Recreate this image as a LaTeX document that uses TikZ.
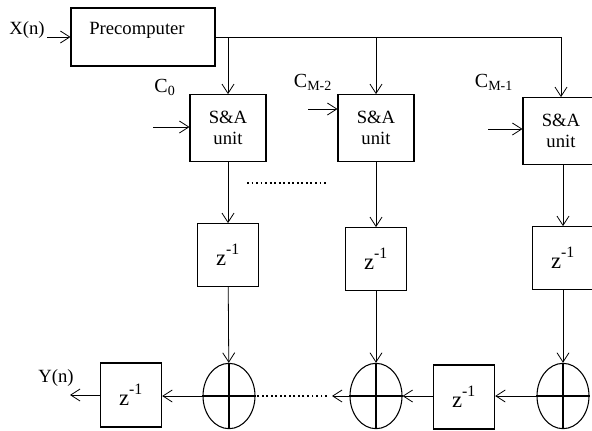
\documentclass[tikz,border=0pt]{standalone}
\usepackage{fontspec}
\setmainfont{Liberation Serif}
\usepackage{tikz}
\usetikzlibrary{arrows.meta,shapes.geometric}

\tikzset{
  blk/.style={draw, line width=0.8pt, inner sep=0pt},
  adder/.style={draw, ellipse, line width=0.8pt, minimum width=39pt, minimum height=49pt, inner sep=0pt},
  sig/.style={line width=0.6pt, -{Straight Barb[length=7pt,width=9pt]}},
  txt/.style={inner sep=0.75pt, font=\fontsize{14}{16}\selectfont},
  ztxt/.style={inner sep=0.75pt, font=\fontsize{17}{19}\selectfont},
  ctxt/.style={inner sep=0.75pt, font=\fontsize{15}{17}\selectfont}
}
\newcommand{\zinv}{z\textsuperscript{\raisebox{2pt}{-1}}}

\begin{document}
\begin{tikzpicture}[x=0.75pt,y=0.75pt,yscale=-1,xscale=1]
\useasboundingbox (0,0) rectangle (592,430);

%Shape: Rectangle [precomputer]
\node [blk, minimum width=108pt, minimum height=43.5pt] (pre) at (143,37) {};
% Text Node
\node [txt] (pretxt) at (137,30) {Precomputer};
% Text Node
\node [txt] (xin) at (27,30) {X(n)};
\coordinate (xstart) at (47,37);
\draw [sig] (xstart) -- (pre.west);

%Bus
\coordinate (busend) at (561,37);
\draw [line width=0.6pt] (pre.east) -- (busend);

%Shape: S&A units
\node [blk, minimum width=57pt, minimum height=50pt, align=center, txt] (sa1) at (228,128) {S\&A\\unit};
\node [blk, minimum width=57pt, minimum height=50pt, align=center, txt] (sa2) at (376,128) {S\&A\\unit};
\node [blk, minimum width=57pt, minimum height=50pt, align=center, txt] (sa3) at (561,131) {S\&A\\unit};

\draw [sig] (sa1.north |- busend) -- (sa1.north);
\draw [sig] (sa2.north |- busend) -- (sa2.north);
\draw [sig] (busend) -- (sa3.north);

% Text Node
\node [ctxt] (c0) at (165,87) {C\textsubscript{0}};
\node [ctxt] (cm2) at (313,82) {C\textsubscript{M-2}};
\node [ctxt] (cm1) at (494,82) {C\textsubscript{M-1}};

\coordinate (in1) at (153,127);
\coordinate (in2) at (308,109);
\coordinate (in3) at (488,129);
\draw [sig] (in1) -- (sa1.west |- in1);
\draw [sig] (in2) -- (sa2.west |- in2);
\draw [sig] (in3) -- (sa3.west |- in3);

%Dots between units
\draw [line width=1.4pt, dotted] (247,183) -- (328,183);

%Shape: delay boxes
\node [blk, minimum width=46pt, minimum height=47pt, ztxt] (z1) at (228,255) {\zinv};
\node [blk, minimum width=46pt, minimum height=47pt, ztxt] (z2) at (376,259) {\zinv};
\node [blk, minimum width=46pt, minimum height=47pt, ztxt] (z3) at (563,258) {\zinv};

\draw [sig] (sa1) -- (z1);
\draw [sig] (sa2) -- (z2);
\draw [sig] (sa3.south -| z3.north) -- (z3.north);

%Shape: adders
\node [adder] (ad1) at (229,396) {};
\node [adder] (ad2) at (376,396) {};
\node [adder] (ad3) at (563,396) {};
\foreach \a in {ad1,ad2,ad3}{
  \draw [line width=0.8pt] (\a.north) -- (\a.south);
  \draw [line width=0.8pt] (\a.west) -- (\a.east);
}

\draw [sig] (z1) -- (ad1);
\draw [sig] (z2) -- (ad2);
\draw [sig] (z3) -- (ad3);

%Bottom chain
\node [blk, minimum width=46pt, minimum height=48pt, ztxt] (zb) at (464,397) {\zinv};
\node [blk, minimum width=46pt, minimum height=48pt, ztxt] (zout) at (131,395) {\zinv};

\draw [sig] (ad3.west) -- (zb.east |- ad3.west);
\draw [sig] (zb.west |- ad2.east) -- (ad2.east);
\coordinate (gap) at (332,396);
\draw [sig] (ad2.west) -- (gap);
\draw [line width=1.4pt, dotted] (gap) ++(-5,0) -- (ad1.east);
\draw [sig] (ad1.west) -- (zout.east |- ad1.west);
\coordinate (yend) at (70,395);
\draw [sig] (zout.west) -- (yend);

% Text Node
\node [txt] (yout) at (56,378) {Y(n)};

\end{tikzpicture}
\end{document}
